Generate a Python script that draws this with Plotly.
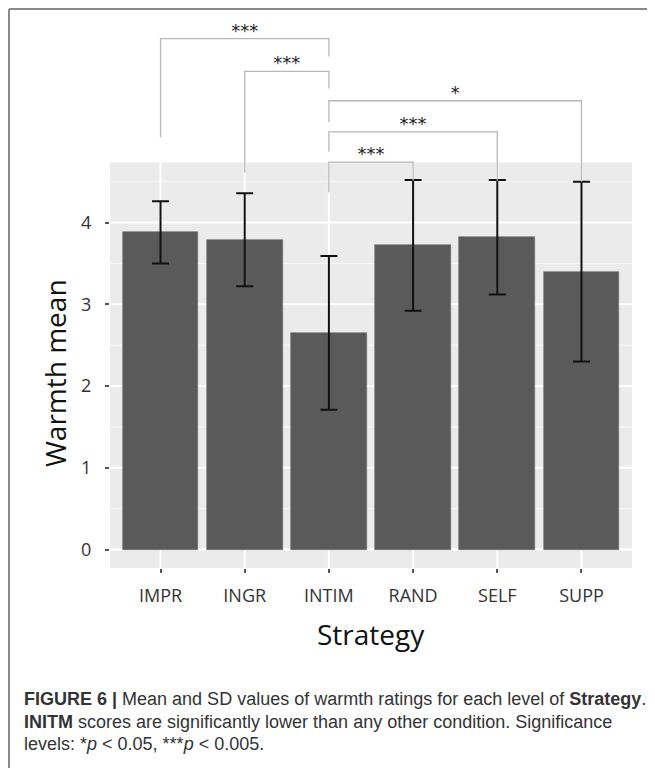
import plotly.graph_objects as go

# ---- data ----
categories = ["IMPR", "INGR", "INTIM", "RAND", "SELF", "SUPP"]
warmth_mean = [3.88, 3.79, 2.65, 3.72, 3.82, 3.40]
warmth_sd = [0.38, 0.57, 0.94, 0.80, 0.70, 1.10]
y_ticks = [0, 1, 2, 3, 4]

# significance comparisons: (left, right, bracket height, left leg end, right leg end, label)
comparisons = [
    ("IMPR", "INTIM", 6.25, 5.04, 6.03, "***"),
    ("INGR", "INTIM", 5.85, 4.61, 5.64, "***"),
    ("INTIM", "SUPP", 5.49, 5.23, 4.50, "*"),
    ("INTIM", "SELF", 5.11, 4.87, 4.51, "***"),
    ("INTIM", "RAND", 4.74, 4.37, 4.51, "***"),
]

caption_lines = [
    "<b>FIGURE 6 |</b> Mean and SD values of warmth ratings for each level of <b>Strategy</b>.",
    "<b>INITM</b> scores are significantly lower than any other condition. Significance",
    "levels: *<i>p</i> &lt; 0.05, ***<i>p</i> &lt; 0.005.",
]

# ---- layout constants (page body adds an 8px offset) ----
OFF = 8
W, H = 655 - OFF, 768 - OFF
ML, MR, MT, MB = 102, 23, 2, 200
Y_LO, Y_HI = -0.2255, 6.60
PANEL_TOP = 4.7355
X_LO, X_HI = -0.6, 5.6
idx = {c: i for i, c in enumerate(categories)}
plot_h = H - MT - MB
plot_w = W - ML - MR


def py(p):
    """screen y pixel -> paper y"""
    return (H - MB - (p - OFF)) / plot_h


def px(p):
    """screen x pixel -> paper x"""
    return ((p - OFF) - ML) / plot_w


fig = go.Figure()

fig.add_trace(go.Bar(
    x=list(range(len(categories))),
    y=warmth_mean,
    width=0.9,
    marker=dict(color="#5a5a5a", line=dict(color="#6a6a6a", width=0.6)),
    error_y=dict(type="data", array=warmth_sd, color="#111111",
                 thickness=2, width=8.5),
    showlegend=False,
    hoverinfo="skip",
))

# brackets
for left, right, h, lend, rend, lab in comparisons:
    xl, xr = idx[left], idx[right]
    fig.add_trace(go.Scatter(
        x=[xl, xl, xr, xr], y=[lend, h, h, rend], mode="lines",
        line=dict(color="#b8b8b8", width=1.3), showlegend=False,
        hoverinfo="skip",
    ))
    fig.add_trace(go.Scatter(
        x=[(xl + xr) / 2], y=[h + 0.08], mode="text", text=[lab],
        textposition="middle center",
        textfont=dict(family="DejaVu Sans", size=18, color="#222222"),
        showlegend=False, hoverinfo="skip", cliponaxis=False,
    ))

shapes = []
# panel background
shapes.append(dict(type="rect", xref="x", yref="y", x0=X_LO, x1=X_HI,
                   y0=Y_LO, y1=PANEL_TOP, fillcolor="#ebebeb",
                   line=dict(width=0), layer="below"))
# minor gridlines
for v in [0.5, 1.5, 2.5, 3.5, 4.5]:
    shapes.append(dict(type="line", xref="x", yref="y", x0=X_LO, x1=X_HI,
                       y0=v, y1=v, line=dict(color="#f7f7f7", width=1),
                       layer="below"))
# major gridlines
for v in y_ticks:
    shapes.append(dict(type="line", xref="x", yref="y", x0=X_LO, x1=X_HI,
                       y0=v, y1=v, line=dict(color="#ffffff", width=2),
                       layer="below"))
for i in range(len(categories)):
    shapes.append(dict(type="line", xref="x", yref="y", x0=i, x1=i,
                       y0=Y_LO, y1=PANEL_TOP, line=dict(color="#ffffff", width=2),
                       layer="below"))
# figure border (left and top)
bx = px(9)
by = py(9)
shapes.append(dict(type="line", xref="paper", yref="paper", x0=bx, x1=bx,
                   y0=py(780), y1=by, line=dict(color="#8a8a8a", width=2)))
shapes.append(dict(type="line", xref="paper", yref="paper", x0=bx,
                   x1=px(670), y0=by, y1=by, line=dict(color="#8a8a8a", width=2)))

annotations = [
    dict(text="Strategy", xref="paper", yref="paper",
         x=0.5, y=py(634), xanchor="center", yanchor="middle",
         showarrow=False, font=dict(family="Open Sans", size=28, color="#111111")),
    dict(text="Warmth mean", xref="paper", yref="paper",
         x=px(55), y=py(373), xanchor="center",
         yanchor="middle", textangle=-90, showarrow=False,
         font=dict(family="Open Sans", size=28, color="#111111")),
]
for line, yy in zip(caption_lines, [699, 722, 744]):
    annotations.append(dict(
        text=line, xref="paper", yref="paper", x=px(22),
        y=py(yy), xanchor="left", yanchor="middle",
        showarrow=False, align="left",
        font=dict(family="Liberation Sans", size=18, color="#333333")))

fig.update_layout(
    width=W, height=H,
    margin=dict(l=ML, r=MR, t=MT, b=MB, pad=0),
    paper_bgcolor="white", plot_bgcolor="white",
    shapes=shapes, annotations=annotations,
    bargap=0,
    xaxis=dict(range=[X_LO, X_HI], tickvals=list(range(len(categories))),
               ticktext=categories, showgrid=False, zeroline=False,
               showline=False, ticks="outside", ticklen=4, tickwidth=1.5,
               tickcolor="#555555", ticklabelstandoff=7,
               tickfont=dict(family="Open Sans", size=18, color="#333333")),
    yaxis=dict(range=[Y_LO, Y_HI], tickvals=y_ticks, showgrid=False,
               zeroline=False, showline=False, ticks="outside", ticklen=4,
               tickwidth=1.5, tickcolor="#555555", ticklabelstandoff=10,
               tickfont=dict(family="Open Sans", size=18, color="#333333")),
)

fig.write_html("out.html")
